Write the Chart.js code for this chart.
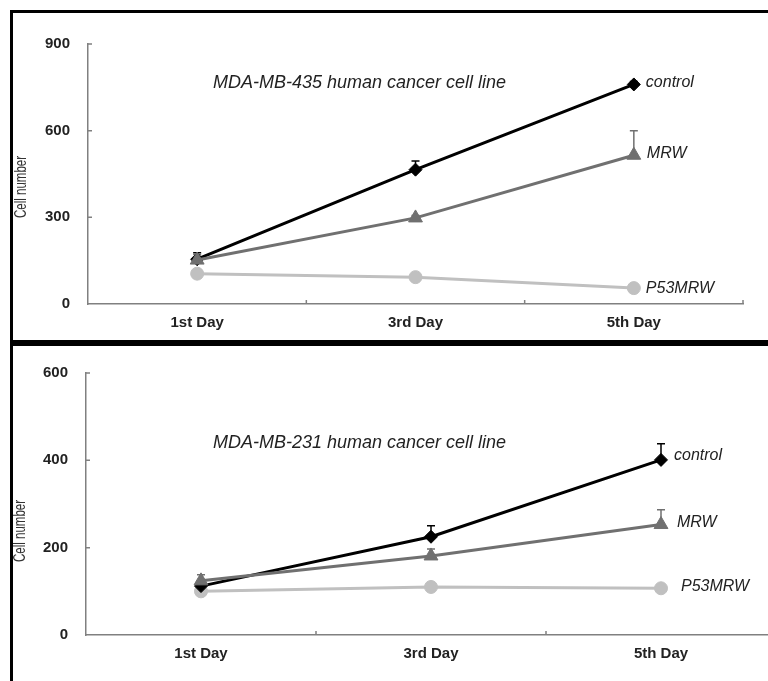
<!DOCTYPE html>
<html><head><meta charset="utf-8">
<script src="https://cdn.jsdelivr.net/npm/chart.js@4"></script>
<style>
html,body{margin:0;padding:0;background:#fff;overflow:hidden;width:768px;height:681px;position:relative}
.frame{position:absolute;background:#000}
canvas{position:absolute}
</style></head><body>
<div class="frame" style="left:10px;top:10px;width:760px;height:3px"></div>
<div class="frame" style="left:10px;top:10px;width:3px;height:671px"></div>
<div class="frame" style="left:10px;top:340px;width:760px;height:6px"></div>
<canvas id="c1" width="755" height="327" style="left:13px;top:13px"></canvas>
<canvas id="c2" width="780" height="335" style="left:13px;top:346px"></canvas>
<script>
// ---- data ----
const days = ['1st Day', '3rd Day', '5th Day'];
const seriesNames = ['control', 'MRW', 'P53MRW'];

// MDA-MB-435 panel
const t435 = 'MDA-MB-435 human cancer cell line';
const c435Control = [155, 465, 760];
const c435ControlErr = [22, 30, 10];
const c435MRW = [152, 298, 515];
const c435MRWErr = [20, 8, 85];
const c435P53 = [105, 93, 55];
const c435P53Err = [5, 8, 5];
const y435Ticks = [0, 300, 600, 900];

// MDA-MB-231 panel
const t231 = 'MDA-MB-231 human cancer cell line';
const c231Control = [112, 225, 401];
const c231ControlErr = [8, 25, 37];
const c231MRW = [124, 181, 253];
const c231MRWErr = [14, 16, 34];
const c231P53 = [100, 110, 107];
const c231P53Err = [4, 4, 5];
const y231Ticks = [0, 200, 400, 600];

const yTitle = 'Cell number';

// ---- styles ----
const colors = ['#000000', '#707070', '#c0c0c0'];
const pointStyles = ['rectRot', 'triangle', 'circle'];
const pointRadii = [6.5, 8, 6.5];
const drawOrder = [1, 0, 2];

const annot = {
  id: 'annot',
  beforeDatasetsDraw(chart, args, o) {
    const ctx = chart.ctx, x = chart.scales.x, y = chart.scales.y;
    ctx.save();
    ctx.lineWidth = 1.5;
    o.errors.forEach((errs, si) => {
      const vals = chart.data.datasets[si].data;
      ctx.strokeStyle = colors[si];
      errs.forEach((e, i) => {
        const px = x.getPixelForValue(i);
        const y0 = y.getPixelForValue(vals[i]);
        const y1 = y.getPixelForValue(vals[i] + e);
        ctx.beginPath();
        ctx.moveTo(px, y0); ctx.lineTo(px, y1);
        ctx.moveTo(px - 4, y1); ctx.lineTo(px + 4, y1);
        ctx.stroke();
      });
    });
    ctx.restore();
  },
  afterDraw(chart, args, o) {
    const ctx = chart.ctx, x = chart.scales.x, y = chart.scales.y, ca = chart.chartArea;
    ctx.save();
    // inward tick marks
    ctx.strokeStyle = '#808080'; ctx.lineWidth = 1.5;
    ctx.beginPath();
    y.ticks.forEach(t => {
      if (t.value === y.min) return;
      const py = y.getPixelForValue(t.value);
      ctx.moveTo(ca.left, py); ctx.lineTo(ca.left + 4, py);
    });
    const w = x.getPixelForValue(1) - x.getPixelForValue(0);
    chart.data.labels.forEach((l, i) => {
      const px = x.getPixelForValue(i) + w / 2;
      ctx.moveTo(px, ca.bottom); ctx.lineTo(px, ca.bottom - 4);
    });
    ctx.stroke();
    // panel title
    ctx.fillStyle = '#222';
    ctx.font = 'italic 18px "Liberation Sans", Arial, sans-serif';
    ctx.textBaseline = 'middle'; ctx.textAlign = 'left';
    ctx.fillText(o.title, ca.left + o.titleDx, ca.top + o.titleDy);
    // series labels at last point
    ctx.font = 'italic 16px "Liberation Sans", Arial, sans-serif';
    const last = chart.data.labels.length - 1;
    chart.data.datasets.forEach((ds, si) => {
      const px = x.getPixelForValue(last);
      const py = y.getPixelForValue(ds.data[last]);
      ctx.fillText(ds.label, px + o.labelDx[si], py + o.labelDy[si]);
    });
    // y axis title (slightly condensed, as in the reference)
    ctx.font = '16px "Liberation Sans", Arial, sans-serif';
    ctx.fillStyle = '#333';
    ctx.translate(o.yTitleX, o.yTitleY);
    ctx.rotate(-Math.PI / 2);
    ctx.scale(0.72, 1);
    ctx.textAlign = 'center';
    ctx.fillText(yTitle, 0, 0);
    ctx.restore();
  }
};

function makeChart(id, vals, errs, ticks, title, geo) {
  const datasets = vals.map((v, i) => ({
    label: seriesNames[i], data: v,
    borderColor: colors[i], backgroundColor: colors[i],
    pointBackgroundColor: colors[i], pointBorderColor: colors[i],
    pointStyle: pointStyles[i], pointRadius: pointRadii[i], pointBorderWidth: 1,
    borderWidth: 3, tension: 0, order: drawOrder[i]
  }));
  return new Chart(document.getElementById(id), {
    type: 'line',
    data: { labels: days, datasets },
    options: {
      responsive: false, animation: false,
      layout: { padding: { top: geo.padTop, right: geo.padRight, left: 0, bottom: 0 } },
      plugins: {
        legend: { display: false }, tooltip: { enabled: false },
        annot: { errors: errs, title, titleDx: geo.titleDx, titleDy: geo.titleDy,
                 labelDx: geo.labelDx, labelDy: geo.labelDy, yTitleX: geo.yTitleX, yTitleY: geo.yTitleY }
      },
      scales: {
        x: {
          type: 'category', offset: true,
          grid: { display: false, drawTicks: false },
          border: { display: true, color: '#808080', width: 1.5 },
          ticks: { color: '#222', padding: geo.xPad, font: { family: '"Liberation Sans", Arial, sans-serif', size: 15, weight: 'bold' } },
          afterFit(s) { s.height = geo.xH; }
        },
        y: {
          min: ticks[0], max: ticks[ticks.length - 1],
          afterBuildTicks(s) { s.ticks = ticks.map(v => ({ value: v })); },
          grid: { display: false, drawTicks: false },
          border: { display: true, color: '#808080', width: 1.5 },
          ticks: { color: '#222', padding: 18, font: { family: '"Liberation Sans", Arial, sans-serif', size: 15, weight: 'bold' } },
          afterFit(s) { s.width = geo.yW; }
        }
      }
    },
    plugins: [annot]
  });
}

makeChart('c1', [c435Control, c435MRW, c435P53], [c435ControlErr, c435MRWErr, c435P53Err], y435Ticks, t435,
  { padTop: 31, padRight: 25, xH: 36, yW: 75, xPad: 10, titleDx: 125, titleDy: 39,
    labelDx: [12, 13, 12], labelDy: [-2, -2, 0], yTitleX: 9, yTitleY: 174 });
makeChart('c2', [c231Control, c231MRW, c231P53], [c231ControlErr, c231MRWErr, c231P53Err], y231Ticks, t231,
  { padTop: 27, padRight: 17, xH: 46, yW: 73, xPad: 10, titleDx: 127, titleDy: 70,
    labelDx: [13, 16, 20], labelDy: [-4, -2, -2], yTitleX: 8, yTitleY: 185 });
</script>
</body></html>
